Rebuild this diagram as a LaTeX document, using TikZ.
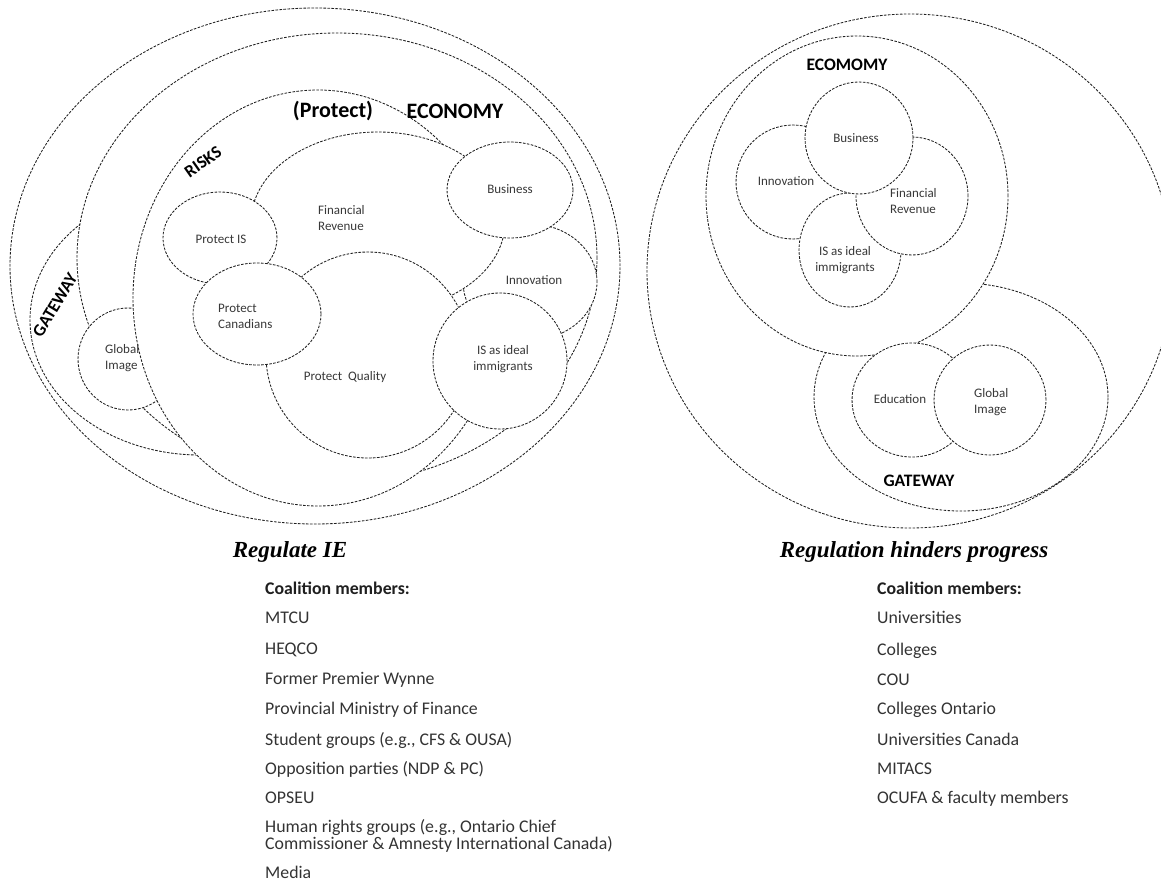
\documentclass[tikz,border=0pt]{standalone}
\usepackage{fontspec}
\setmainfont{Carlito}
\newfontfamily\titlefont{Liberation Serif}
\usetikzlibrary{shapes.geometric}

\begin{document}
\begin{tikzpicture}[x=1pt,y=-1pt,
  ring/.style={ellipse, draw=black!88, line width=0.85pt,
    dash pattern=on 2.6pt off 1.4pt, fill=white, inner sep=0pt, outer sep=0pt},
  lbl/.style={font=\fontsize{13}{16}\selectfont, text=black!78, inner sep=0pt},
  head/.style={font=\bfseries\fontsize{22}{26}\selectfont, text=black, inner sep=0pt},
  side/.style={font=\bfseries\fontsize{17.5}{20}\selectfont, text=black, inner sep=0pt},
  ttl/.style={font=\titlefont\bfseries\itshape\fontsize{23}{27}\selectfont,
    inner sep=0pt, anchor=base},
  item/.style={font=\fontsize{17.8}{15}\selectfont, text=black!80, inner sep=0pt,
    anchor=base west, align=left},
  itemhead/.style={item, font=\bfseries\fontsize{17.8}{15}\selectfont, text=black!88},
]
\useasboundingbox (0,0) rectangle (1161,883);
\clip (0,0) rectangle (1161,883);

% ---------- left diagram: nested fields, back to front ----------
\node[ring, minimum width=610pt, minimum height=516pt] (Louter)  at (315,266) {};
\node[ring, minimum width=340pt, minimum height=270pt] (Lgate)   at (200,320) {};
\node[ring, minimum width=520pt, minimum height=450pt] (Lecon)   at (337,258) {};
\node[ring, minimum width=100pt, minimum height=102pt] (Lglobal) at (128,359) {};
\node[ring, minimum width=370pt, minimum height=416pt] (Lrisks)  at (318,298) {};
\node[ring, minimum width=134pt, minimum height=116pt] (Linnov)  at (530,282) {};
\node[ring, minimum width=254pt, minimum height=180pt] (Lfin)    at (378,222) {};
\node[ring, minimum width=114pt, minimum height=92pt]  (Lpis)    at (220,238) {};
\node[ring, minimum width=204pt, minimum height=206pt] (Lqual)   at (368,355) {};
\node[ring, minimum width=128pt, minimum height=102pt] (Lcan)    at (257,314) {};
\node[ring, minimum width=126pt, minimum height=96pt]  (Lbus)    at (510,190) {};
\node[ring, minimum width=134pt, minimum height=136pt] (Lideal)  at (500,361) {};

% ---------- right diagram ----------
\node[ring, minimum width=526pt, minimum height=514pt] (Router)  at (910,271) {};
\node[ring, minimum width=294pt, minimum height=228pt] (Rgate)   at (961,397) {};
\node[ring, minimum width=302pt, minimum height=320pt] (Recon)   at (857,196) {};
\node[ring, minimum width=114pt, minimum height=114pt] (Rinnov)  at (793,182) {};
\node[ring, minimum width=102pt, minimum height=114pt] (Rideal)  at (850,250) {};
\node[ring, minimum width=112pt, minimum height=118pt] (Rfin)    at (912,196) {};
\node[ring, minimum width=108pt, minimum height=112pt] (Rbus)    at (859,138) {};
\node[ring, minimum width=120pt, minimum height=114pt] (Redu)    at (912,400) {};
\node[ring, minimum width=112pt, minimum height=110pt] (Rglobal) at (990,400) {};

% ---------- left labels ----------
\node[head] (tProtect) at (333,111) {(Protect)};
\node[head] (tEconL) at (455,111) {ECONOMY};
\node[side, rotate=35] (tRisks) at (203,162) {RISKS};
\node[side, rotate=59] (tGateL) at (55,305) {GATEWAY};
\node[lbl] (tBusL) at (510,189) {Business};
\node[lbl, align=left, anchor=west] (tFinL) at (318,218.5) {Financial\\Revenue};
\node[lbl] (tPisL) at (221,239) {Protect IS};
\node[lbl, align=left, anchor=west] (tCanL) at (218,316.5) {Protect\\Canadians};
\node[lbl] (tQual) at (345,377) {Protect\ \ Quality};
\node[lbl] (tInnL) at (534,280) {Innovation};
\node[lbl, align=center] (tIdealL) at (503,359) {IS as ideal\\immigrants};
\node[lbl, align=left, anchor=west] (tGlobL) at (105,358) {Global\\Image};

% ---------- right labels ----------
\node[side] (tEconR) at (847,65) {ECOMOMY};
\node[side] (tGateR) at (919,481) {GATEWAY};
\node[lbl] (tBusR) at (856,138) {Business};
\node[lbl] (tInnR) at (786,181) {Innovation};
\node[lbl, align=left, anchor=west] (tFinR) at (890,201.5) {Financial\\Revenue};
\node[lbl, align=center] (tIdealR) at (845,260) {IS as ideal\\immigrants};
\node[lbl] (tEdu) at (900,399) {Education};
\node[lbl, align=left, anchor=west] (tGlobR) at (974,402.5) {Global\\Image};

% ---------- titles ----------
\node[ttl] (ttlL) at (290,557) {Regulate IE};
\node[ttl] (ttlR) at (914,557) {Regulation hinders progress};

% ---------- coalition lists ----------
\node[itemhead] (hL) at (265,594.5) {Coalition members:};
\node[item] (l1) at (265,623.5) {MTCU};
\node[item] (l2) at (265,654.5) {HEQCO};
\node[item] (l3) at (265,684.5) {Former Premier Wynne};
\node[item] (l4) at (265,714.5) {Provincial Ministry of Finance};
\node[item] (l5) at (265,745.5) {Student groups (e.g., CFS \& OUSA)};
\node[item] (l6) at (265,774.5) {Opposition parties (NDP \& PC)};
\node[item] (l7) at (265,803.5) {OPSEU};
% two-line entry: the base anchor sits on its last line
\node[item] (l8) at (265,849.5) {Human rights groups (e.g., Ontario Chief\\Commissioner \& Amnesty International Canada)};
\node[item] (l9) at (265,878.5) {Media};

\node[itemhead] (hR) at (877,594.5) {Coalition members:};
\node[item] (r1) at (877,623.5) {Universities};
\node[item] (r2) at (877,655.5) {Colleges};
\node[item] (r3) at (877,685.5) {COU};
\node[item] (r4) at (877,714.5) {Colleges Ontario};
\node[item] (r5) at (877,745.5) {Universities Canada};
\node[item] (r6) at (877,774.5) {MITACS};
\node[item] (r7) at (877,803.5) {OCUFA \& faculty members};
\end{tikzpicture}
\end{document}
